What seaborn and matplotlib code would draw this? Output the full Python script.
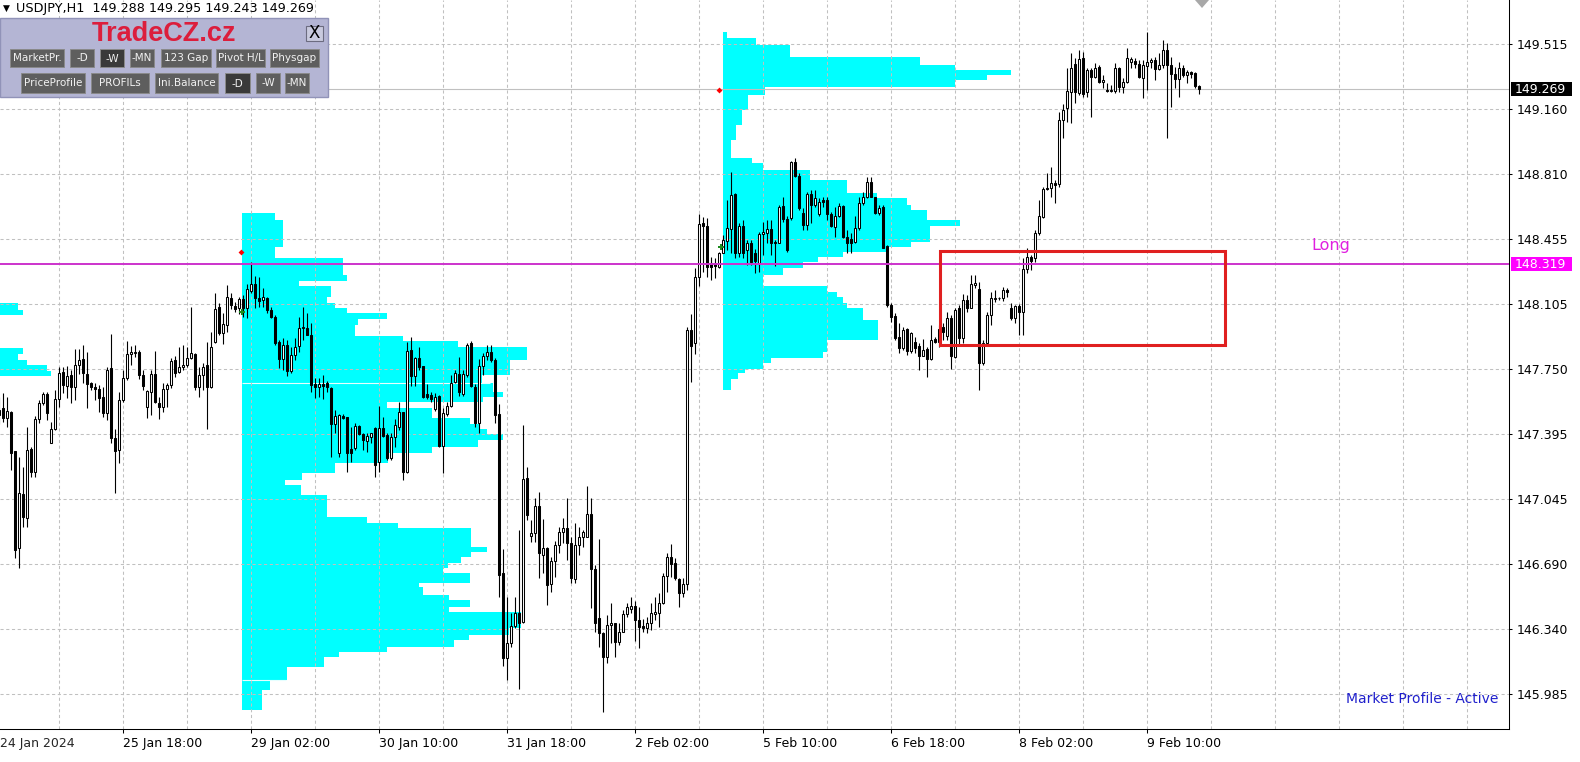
import matplotlib
matplotlib.use("Agg")
import matplotlib.pyplot as plt
from matplotlib.patches import Rectangle, Polygon
from matplotlib.transforms import IdentityTransform
import numpy as np
import seaborn as sns

# ---------------- data (USDJPY H1, bar index 0 = 24 Jan 2024 11:00) ----------------
OPEN = [
    147.500, 147.537, 147.483, 147.519, 147.305, 146.777, 147.072, 146.940, 147.316, 147.188,
    147.479, 147.564, 147.615, 147.347, 147.426, 147.586, 147.734, 147.660, 147.716, 147.651,
    147.772, 147.803, 147.723, 147.673, 147.654, 147.642, 147.600, 147.513, 147.754, 147.374,
    147.311, 147.582, 147.700, 147.830, 147.836, 147.845, 147.718, 147.542, 147.627, 147.721,
    147.564, 147.546, 147.642, 147.664, 147.799, 147.732, 147.759, 147.772, 147.808, 147.832,
    147.654, 147.716, 147.772, 147.654, 147.895, 148.085, 147.944, 147.989, 148.134, 148.094,
    148.083, 148.130, 148.083, 148.174, 148.212, 148.134, 148.125, 148.134, 148.070, 148.031,
    147.899, 147.803, 147.880, 147.741, 147.826, 147.875, 147.971, 147.971, 147.935, 147.669,
    147.654, 147.669, 147.672, 147.645, 147.451, 147.296, 147.495, 147.491, 147.314, 147.319,
    147.441, 147.397, 147.361, 147.383, 147.428, 147.247, 147.428, 147.392, 147.265, 147.379,
    147.437, 147.518, 147.193, 147.853, 147.712, 147.808, 147.766, 147.614, 147.609, 147.531,
    147.603, 147.332, 147.506, 147.549, 147.681, 147.723, 147.614, 147.718, 147.889, 147.654,
    147.455, 147.766, 147.821, 147.844, 147.799, 147.505, 146.641, 146.179, 146.261, 146.355,
    146.424, 146.378, 147.157, 146.843, 146.858, 147.006, 146.740, 146.776, 146.583, 146.709,
    146.795, 146.863, 146.885, 146.807, 146.608, 146.795, 146.840, 146.840, 146.961, 146.662,
    146.400, 146.315, 146.185, 146.360, 146.369, 146.270, 146.324, 146.420, 146.449, 146.463,
    146.387, 146.355, 146.342, 146.373, 146.420, 146.424, 146.478, 146.626, 146.731, 146.695,
    146.608, 146.532, 146.583, 147.960, 147.890, 148.250, 148.541, 148.527, 148.328, 148.328,
    148.306, 148.382, 148.447, 148.509, 148.701, 148.379, 148.527, 148.397, 148.433, 148.379,
    148.324, 148.484, 148.490, 148.509, 148.442, 148.437, 148.636, 148.563, 148.569, 148.876,
    148.799, 148.596, 148.532, 148.701, 148.641, 148.592, 148.668, 148.668, 148.592, 148.523,
    148.581, 148.636, 148.469, 148.455, 148.442, 148.514, 148.650, 148.686, 148.768, 148.683,
    148.596, 148.632, 148.418, 148.098, 148.039, 147.926, 147.863, 147.966, 147.850, 147.899,
    147.876, 147.821, 147.857, 147.803, 147.911, 147.899, 147.980, 147.930, 148.026, 147.817,
    148.080, 147.917, 148.125, 148.083, 148.206, 148.185, 147.781, 147.890, 148.043, 148.130,
    148.134, 148.134, 148.179, 148.083, 148.029, 148.092, 148.058, 148.293, 148.360, 148.351,
    148.487, 148.577, 148.735, 148.731, 148.758, 148.753, 149.102, 149.166, 149.256, 149.404,
    149.247, 149.437, 149.256, 149.374, 149.338, 149.392, 149.307, 149.265, 149.260, 149.260,
    149.386, 149.283, 149.307, 149.420, 149.423, 149.404, 149.332, 149.397, 149.415, 149.428,
    149.379, 149.401, 149.482, 149.401, 149.350, 149.325, 149.383, 149.347, 149.361, 149.356,
    149.288,
]
HIGH = [
    147.600, 147.622, 147.600, 147.520, 147.305, 147.274, 147.220, 147.437, 147.329, 147.497,
    147.582, 147.627, 147.627, 147.464, 147.636, 147.763, 147.760, 147.767, 147.745, 147.857,
    147.857, 147.879, 147.845, 147.682, 147.673, 147.664, 147.654, 147.763, 147.940, 147.423,
    147.627, 147.745, 147.904, 147.875, 147.881, 147.854, 147.745, 147.636, 147.745, 147.848,
    147.600, 147.673, 147.673, 147.808, 147.821, 147.868, 147.881, 147.872, 148.085, 147.835,
    147.763, 147.781, 147.899, 147.953, 148.165, 148.111, 148.053, 148.205, 148.165, 148.116,
    148.140, 148.150, 148.212, 148.333, 148.255, 148.252, 148.188, 148.143, 148.089, 148.043,
    147.908, 147.917, 147.908, 147.871, 147.917, 148.034, 148.089, 148.052, 147.998, 147.699,
    147.699, 147.718, 147.687, 147.654, 147.527, 147.506, 147.506, 147.491, 147.437, 147.455,
    147.446, 147.401, 147.401, 147.404, 147.437, 147.549, 147.491, 147.401, 147.401, 147.477,
    147.573, 147.518, 147.898, 147.926, 147.817, 147.871, 147.766, 147.669, 147.627, 147.618,
    147.609, 147.537, 147.573, 147.718, 147.745, 147.817, 147.745, 147.889, 147.902, 147.669,
    147.803, 147.839, 147.880, 147.880, 147.808, 147.560, 146.771, 146.514, 146.424, 146.514,
    146.876, 147.446, 147.220, 146.930, 147.048, 147.084, 146.934, 146.786, 146.731, 146.818,
    146.894, 146.940, 147.048, 146.840, 146.912, 146.894, 146.876, 147.115, 147.048, 146.686,
    146.825, 146.324, 146.414, 146.478, 146.373, 146.369, 146.442, 146.481, 146.514, 146.492,
    146.460, 146.391, 146.405, 146.478, 146.514, 146.532, 146.641, 146.749, 146.800, 146.722,
    146.614, 146.614, 147.980, 148.050, 148.300, 148.590, 148.574, 148.569, 148.361, 148.351,
    148.388, 148.478, 148.668, 148.822, 148.704, 148.542, 148.560, 148.451, 148.451, 148.400,
    148.496, 148.551, 148.560, 148.560, 148.451, 148.641, 148.686, 148.581, 148.882, 148.894,
    148.813, 148.623, 148.713, 148.722, 148.722, 148.680, 148.686, 148.686, 148.605, 148.632,
    148.650, 148.641, 148.505, 148.487, 148.581, 148.686, 148.713, 148.795, 148.795, 148.686,
    148.641, 148.641, 148.424, 148.107, 148.053, 148.002, 147.980, 147.971, 147.953, 147.926,
    147.890, 147.912, 147.872, 147.990, 147.926, 147.990, 147.998, 148.062, 148.043, 148.080,
    148.100, 148.156, 148.152, 148.260, 148.260, 148.224, 147.908, 148.061, 148.170, 148.179,
    148.143, 148.197, 148.188, 148.110, 148.097, 148.105, 148.351, 148.409, 148.369, 148.505,
    148.668, 148.740, 148.813, 148.849, 148.776, 149.147, 149.187, 149.383, 149.464, 149.437,
    149.482, 149.473, 149.383, 149.386, 149.410, 149.401, 149.347, 149.301, 149.292, 149.410,
    149.392, 149.328, 149.491, 149.446, 149.437, 149.428, 149.428, 149.582, 149.441, 149.446,
    149.464, 149.537, 149.518, 149.446, 149.392, 149.415, 149.401, 149.374, 149.368, 149.365,
    149.295,
]
LOW = [
    147.450, 147.464, 147.437, 147.202, 146.722, 146.668, 146.894, 146.894, 147.166, 147.166,
    147.455, 147.555, 147.473, 147.347, 147.419, 147.546, 147.618, 147.591, 147.564, 147.582,
    147.723, 147.673, 147.537, 147.636, 147.582, 147.519, 147.492, 147.473, 147.347, 147.079,
    147.238, 147.573, 147.691, 147.772, 147.814, 147.694, 147.636, 147.483, 147.501, 147.568,
    147.477, 147.519, 147.546, 147.645, 147.709, 147.727, 147.745, 147.763, 147.803, 147.636,
    147.597, 147.636, 147.423, 147.645, 147.893, 147.933, 147.886, 147.953, 148.074, 148.062,
    148.047, 148.030, 148.025, 148.161, 148.080, 148.089, 148.089, 148.052, 148.025, 147.880,
    147.754, 147.745, 147.712, 147.727, 147.799, 147.844, 147.908, 147.935, 147.627, 147.591,
    147.600, 147.585, 147.627, 147.274, 147.401, 147.274, 147.477, 147.193, 147.247, 147.310,
    147.392, 147.310, 147.301, 147.347, 147.166, 147.193, 147.383, 147.256, 147.256, 147.328,
    147.419, 147.147, 147.184, 147.658, 147.658, 147.745, 147.591, 147.585, 147.573, 147.524,
    147.328, 147.187, 147.495, 147.546, 147.676, 147.604, 147.604, 147.709, 147.654, 147.437,
    147.401, 147.718, 147.799, 147.790, 147.459, 146.514, 146.138, 146.062, 146.242, 146.342,
    146.011, 146.369, 146.930, 146.813, 146.813, 146.614, 146.641, 146.469, 146.541, 146.619,
    146.749, 146.804, 146.713, 146.590, 146.590, 146.740, 146.786, 146.836, 146.451, 146.324,
    146.242, 145.890, 146.152, 146.260, 146.188, 146.251, 146.324, 146.405, 146.424, 146.275,
    146.233, 146.324, 146.319, 146.333, 146.387, 146.351, 146.474, 146.541, 146.623, 146.604,
    146.460, 146.514, 146.550, 147.680, 147.832, 148.200, 148.279, 148.252, 148.234, 148.243,
    148.297, 148.379, 148.397, 148.379, 148.351, 148.361, 148.351, 148.315, 148.315, 148.270,
    148.279, 148.370, 148.433, 148.370, 148.310, 148.433, 148.551, 148.388, 148.560, 148.792,
    148.614, 148.505, 148.505, 148.542, 148.632, 148.580, 148.632, 148.560, 148.520, 148.469,
    148.578, 148.460, 148.379, 148.379, 148.433, 148.505, 148.641, 148.677, 148.683, 148.592,
    148.587, 148.406, 148.089, 148.008, 147.908, 147.836, 147.854, 147.827, 147.836, 147.836,
    147.745, 147.818, 147.709, 147.799, 147.890, 147.870, 147.908, 147.908, 147.750, 147.808,
    147.880, 147.890, 148.061, 148.080, 148.188, 147.636, 147.772, 147.880, 147.989, 148.116,
    148.125, 148.119, 148.143, 148.016, 147.998, 147.935, 147.935, 148.270, 148.288, 148.329,
    148.478, 148.572, 148.722, 148.686, 148.650, 148.740, 149.003, 149.093, 149.084, 149.193,
    149.238, 149.229, 149.229, 149.120, 149.328, 149.301, 149.274, 149.256, 149.256, 149.247,
    149.256, 149.247, 149.301, 149.383, 149.383, 149.328, 149.220, 149.265, 149.383, 149.319,
    149.374, 149.386, 149.006, 149.175, 149.274, 149.229, 149.338, 149.301, 149.328, 149.274,
    149.243,
]
CLOSE = [
    147.530, 147.483, 147.524, 147.296, 146.768, 147.075, 146.945, 147.311, 147.188, 147.479,
    147.564, 147.615, 147.510, 147.423, 147.586, 147.727, 147.664, 147.712, 147.654, 147.772,
    147.799, 147.727, 147.667, 147.654, 147.640, 147.595, 147.513, 147.745, 147.374, 147.307,
    147.582, 147.700, 147.830, 147.841, 147.845, 147.718, 147.658, 147.633, 147.721, 147.569,
    147.546, 147.642, 147.664, 147.796, 147.727, 147.759, 147.772, 147.808, 147.835, 147.654,
    147.716, 147.763, 147.651, 147.872, 148.074, 147.944, 147.995, 148.140, 148.098, 148.076,
    148.129, 148.080, 148.183, 148.212, 148.134, 148.121, 148.139, 148.070, 148.031, 147.893,
    147.803, 147.880, 147.741, 147.826, 147.871, 147.971, 147.980, 147.935, 147.663, 147.650,
    147.669, 147.658, 147.650, 147.451, 147.495, 147.499, 147.486, 147.296, 147.296, 147.441,
    147.397, 147.365, 147.386, 147.401, 147.229, 147.428, 147.388, 147.265, 147.383, 147.446,
    147.518, 147.193, 147.850, 147.712, 147.808, 147.763, 147.600, 147.600, 147.585, 147.596,
    147.332, 147.509, 147.549, 147.676, 147.730, 147.627, 147.723, 147.880, 147.658, 147.455,
    147.766, 147.821, 147.844, 147.799, 147.500, 146.632, 146.179, 146.261, 146.355, 146.424,
    146.373, 147.151, 146.957, 146.858, 147.006, 146.753, 146.776, 146.577, 146.709, 146.795,
    146.863, 146.885, 146.804, 146.614, 146.795, 146.840, 146.867, 146.961, 146.662, 146.373,
    146.315, 146.185, 146.360, 146.369, 146.270, 146.324, 146.420, 146.460, 146.463, 146.387,
    146.351, 146.342, 146.373, 146.424, 146.433, 146.478, 146.626, 146.731, 146.691, 146.614,
    146.532, 146.583, 147.960, 147.875, 148.250, 148.540, 148.527, 148.306, 148.306, 148.310,
    148.382, 148.451, 148.514, 148.695, 148.379, 148.527, 148.379, 148.433, 148.333, 148.339,
    148.484, 148.496, 148.509, 148.437, 148.433, 148.632, 148.563, 148.397, 148.876, 148.799,
    148.623, 148.532, 148.701, 148.641, 148.677, 148.659, 148.659, 148.592, 148.527, 148.581,
    148.636, 148.469, 148.437, 148.437, 148.514, 148.654, 148.686, 148.768, 148.683, 148.596,
    148.623, 148.406, 148.098, 148.035, 147.917, 147.863, 147.962, 147.850, 147.944, 147.863,
    147.821, 147.854, 147.803, 147.908, 147.899, 147.970, 147.953, 148.026, 147.822, 148.071,
    147.917, 148.125, 148.083, 148.210, 148.215, 147.781, 147.890, 148.043, 148.134, 148.134,
    148.134, 148.179, 148.170, 148.029, 148.092, 148.058, 148.293, 148.356, 148.337, 148.487,
    148.583, 148.727, 148.727, 148.758, 148.749, 149.102, 149.156, 149.260, 149.386, 149.256,
    149.432, 149.242, 149.374, 149.338, 149.383, 149.310, 149.319, 149.260, 149.265, 149.386,
    149.283, 149.307, 149.437, 149.432, 149.404, 149.338, 149.401, 149.415, 149.428, 149.379,
    149.401, 149.482, 149.401, 149.350, 149.325, 149.383, 149.347, 149.361, 149.350, 149.289,
    149.269,
]

# Weekly market profiles: row top prices and TPO lengths (in bars)
P1_START = 60.8
P1_TOP = [148.597, 148.559, 148.413, 148.353, 148.261, 148.228, 148.201, 148.141, 148.108, 148.081,
          148.054, 148.022, 147.989, 147.929, 147.902, 147.870, 147.799, 147.718, 147.674, 147.625,
          147.598, 147.571, 147.538, 147.484, 147.451, 147.424, 147.397, 147.364, 147.326, 147.294,
          147.239, 147.185, 147.147, 147.120, 147.066, 146.946, 146.914, 146.887, 146.783, 146.756,
          146.729, 146.696, 146.669, 146.642, 146.588, 146.566, 146.522, 146.495, 146.457, 146.430,
          146.343, 146.305, 146.278, 146.240, 146.213, 146.186, 146.132, 146.061, 146.007]
P1_LEN = [8.2, 10.2, 8.2, 25.2, 26.2, 14.2, 22.2, 21.2, 23.2, 26.2,
          36.2, 29.0, 28.2, 40.2, 54.0, 71.2, 67.0, 60.0, 62.7, 65.2,
          60.2, 36.2, 47.5, 57.0, 59.5, 61.2, 65.2, 59.0, 47.5, 36.5,
          23.2, 15.0, 10.6, 14.7, 21.2, 31.1, 39.0, 57.2, 61.2, 57.2,
          54.7, 51.5, 50.2, 57.0, 44.2, 45.2, 51.7, 57.0, 51.7, 69.7,
          66.7, 56.7, 53.0, 36.2, 24.1, 20.4, 11.1, 7.0, 5.0]
P1_BOTTOM = 145.898
P1_MARK = [147.676, 146.063]
P1_MARK_LEN = [62.0, 11.0]

P2_START = 180.9
P2_TOP = [149.580, 149.548, 149.510, 149.444, 149.401, 149.374, 149.347, 149.319, 149.281, 149.238,
          149.157, 149.075, 148.994, 148.896, 148.869, 148.831, 148.776, 148.706, 148.679, 148.641,
          148.614, 148.559, 148.527, 148.440, 148.413, 148.386, 148.358, 148.331, 148.298, 148.261,
          148.201, 148.168, 148.141, 148.108, 148.081, 148.016, 147.907, 147.842, 147.810, 147.783,
          147.750, 147.728, 147.696]
P2_LEN = [1.1, 8.4, 16.9, 49.4, 58.1, 72.1, 66.1, 58.1, 10.6, 6.4,
          4.9, 3.4, 2.1, 7.4, 10.1, 21.9, 31.1, 38.6, 46.1, 47.1,
          51.1, 59.4, 51.9, 47.1, 41.1, 30.1, 23.9, 20.1, 15.1, 10.1,
          26.1, 28.6, 30.1, 31.1, 35.1, 38.9, 26.1, 25.1, 12.1, 10.1,
          5.6, 3.9, 2.1]
P2_BOTTOM = 147.636

P0_START = -59.0
P0_TOP = [148.107, 148.071, 148.043, 147.862, 147.831, 147.799, 147.772, 147.741]
P0_LEN = [63.8, 64.9, 0.0, 64.9, 63.8, 65.9, 70.9, 71.9]
P0_BOTTOM = 147.712

PRICE_TICKS = [149.515, 149.160, 148.810, 148.455, 148.105, 147.750,
               147.395, 147.045, 146.690, 146.340, 145.985]
TIME_LABELS = ["25 Jan 18:00", "29 Jan 02:00", "30 Jan 10:00", "31 Jan 18:00",
               "2 Feb 02:00", "5 Feb 10:00", "6 Feb 18:00", "8 Feb 02:00", "9 Feb 10:00"]
TIME_LABEL_BARS = [31, 63, 95, 127, 159, 191, 223, 255, 287]
FIRST_LABEL = "24 Jan 2024"
GRID_BARS = list(range(15, 378, 16))

LONG_LEVEL = 148.319
LAST_PRICE = 149.269
BOX_BARS = (235.25, 306.5)
BOX_PRICES = (147.880, 148.391)
ARROW_BARS, ARROW_PRICES = [60.5, 180.1], [148.384, 149.267]
DOT_BARS, DOT_PRICES = [60.75, 180.4], [148.062, 148.411]

TITLE = "USDJPY,H1  149.288 149.295 149.243 149.269"
BUTTONS_ROW1 = [("MarketPr.", 10, 64, False), ("-D", 70, 94, False), ("-W", 100, 124, True),
                ("-MN", 130, 154, False), ("123 Gap", 161, 211, False),
                ("Pivot H/L", 216, 265, False), ("Physgap", 270, 319, False)]
BUTTONS_ROW2 = [("PriceProfile", 21, 85, False), ("PROFILs", 91, 149, False),
                ("Ini.Balance", 155, 218, False), ("-D", 225, 250, True),
                ("-W", 256, 280, False), ("-MN", 285, 309, False)]

assert len(OPEN) == len(HIGH) == len(LOW) == len(CLOSE) == 301
assert len(P1_TOP) == len(P1_LEN) and len(P2_TOP) == len(P2_LEN) and len(P0_TOP) == len(P0_LEN)

# ---------------- style ----------------
sns.set_theme(style="white", rc={"axes.edgecolor": "black", "xtick.color": "black",
                                 "ytick.color": "black", "axes.linewidth": 0.75})
plt.rcParams["font.family"] = ["DejaVu Sans"]

W, H = 1580, 762
fig = plt.figure(figsize=(W / 100, H / 100), dpi=100)
fig.patch.set_facecolor("white")
ax = fig.add_axes([0, 33 / H, 1509 / W, 729 / H])
ax.set_facecolor("white")
ax.set_xlim(0.25, 377.5)
ax.set_ylim(145.795, 149.754)

for s in ("left", "top"):
    ax.spines[s].set_visible(False)
for s in ("right", "bottom"):
    ax.spines[s].set_color("black")
    ax.spines[s].set_linewidth(0.75)

# grid
grid_kw = dict(color="#c0c0c0", lw=0.75, ls=(0, (3, 2.5)), zorder=1.5)
for p in PRICE_TICKS:
    ax.axhline(p, **grid_kw)
for b in GRID_BARS:
    ax.axvline(b, **grid_kw)

# market profiles
def draw_profile(start, tops, lens, bottom):
    tops = np.array(tops)
    bottoms = np.append(tops[1:], bottom)
    ax.barh(bottoms, lens, height=tops - bottoms, left=start, align="edge",
            color="#00ffff", linewidth=0, antialiased=False, zorder=1)

draw_profile(P0_START, P0_TOP, P0_LEN, P0_BOTTOM)
draw_profile(P1_START, P1_TOP, P1_LEN, P1_BOTTOM)
draw_profile(P2_START, P2_TOP, P2_LEN, P2_BOTTOM)
ax.hlines(P1_MARK, P1_START, P1_START + np.array(P1_MARK_LEN), color="#e6ffff", lw=0.8, zorder=1.2)

# current price line
ax.axhline(LAST_PRICE, color="#c0c0c0", lw=0.8, zorder=2.5)

# candles
o, h, l, c = map(np.array, (OPEN, HIGH, LOW, CLOSE))
idx = np.arange(len(c))
hi = np.maximum(h, np.maximum(o, c))
lo = np.minimum(l, np.minimum(o, c))
ax.vlines(idx, lo, hi, color="black", lw=0.8, zorder=3)
body_bot = np.minimum(o, c)
body_h = np.maximum(np.abs(c - o), 0.002)
colors = np.where(c > o, "white", "black")
ax.bar(idx, body_h, bottom=body_bot, width=0.68, color=colors, edgecolor="black",
       linewidth=0.75, zorder=4)

# markers
sns.scatterplot(x=ARROW_BARS, y=ARROW_PRICES, marker="D", s=9, color="#ff0000",
                linewidth=0, ax=ax, zorder=7, legend=False)
sns.scatterplot(x=DOT_BARS, y=DOT_PRICES, marker="P", s=22, color="#1c8a1c",
                linewidth=0, ax=ax, zorder=7, legend=False)

# long level
ax.axhline(LONG_LEVEL, color="#cc33cc", lw=1.4, zorder=5)
ax.text(328, LONG_LEVEL + 0.1, "Long", color="#e020e0", fontsize=11.5,
        va="center", ha="left", zorder=8)

# red box
ax.add_patch(Rectangle((BOX_BARS[0], BOX_PRICES[0]), BOX_BARS[1] - BOX_BARS[0],
                       BOX_PRICES[1] - BOX_PRICES[0], fill=False, edgecolor="#e02020",
                       lw=2.2, zorder=6))

# axes ticks
ax.yaxis.tick_right()
ax.set_yticks(PRICE_TICKS)
ax.set_yticklabels([f"{p:.3f}" for p in PRICE_TICKS])
ax.tick_params(axis="y", direction="out", length=2.5, width=0.75, pad=3.2, labelsize=9,
               right=True, left=False)
ax.set_xticks(TIME_LABEL_BARS)
ax.set_xticklabels(TIME_LABELS, ha="left")
ax.tick_params(axis="x", direction="out", length=3, width=0.75, pad=2.5, labelsize=9,
               bottom=True)
ax.annotate(FIRST_LABEL, xy=(0, 0), xycoords="axes fraction",
            xytext=(0.3, -5.5), textcoords="offset points", ha="left", va="top",
            fontsize=9, annotation_clip=False)
ax.grid(False)

# ---------------- pixel-space overlays ----------------
fig.canvas.draw()
ident = IdentityTransform()

def prect(x0, y0, x1, y1, **kw):
    fig.add_artist(Rectangle((x0, H - y1), x1 - x0, y1 - y0, transform=ident, **kw))

def ptext(x, y, s, **kw):
    fig.text(x / W, 1 - y / H, s, **kw)

def price_to_py(p):
    return H - ax.transData.transform((1, p))[1]

# right-axis price boxes
for price, fc in ((LAST_PRICE, "black"), (LONG_LEVEL, "#ff00ff")):
    py = price_to_py(price)
    prect(1511, py - 7, 1572, py + 7, facecolor=fc, edgecolor="none", zorder=5)
    ptext(1515, py, f"{price:.3f}", color="white", fontsize=9, va="center", ha="left", zorder=6)

# chart-shift marker
fig.add_artist(Polygon([(1195, H), (1209, H), (1202, H - 8)], closed=True,
                       transform=ident, facecolor="#a8a8a8", edgecolor="none", zorder=5))

# symbol title
ptext(3, 8.5, "\u25BC", fontsize=6.5, va="center", ha="left", color="black", zorder=6)
ptext(16, 8.5, TITLE, fontsize=9.2, va="center", ha="left", color="black", zorder=6)

# TradeCZ panel
prect(0, 18, 328, 97, facecolor="#b4b5d4", edgecolor="#9193b8", lw=1, zorder=4)
ptext(163.5, 34, "TradeCZ.cz", fontsize=19.5, fontweight="bold", color="#dc1e3c",
      family="Liberation Sans", ha="center", va="center", zorder=6)
prect(306, 26, 323, 41, facecolor="#c9cade", edgecolor="#6c6c80", lw=0.8, zorder=5)
ptext(314.5, 33.5, "X", fontsize=12, color="black", ha="center", va="center", zorder=6)
for row, (y0, y1) in ((BUTTONS_ROW1, (49, 67)), (BUTTONS_ROW2, (73, 93))):
    for label, x0, x1, pressed in row:
        prect(x0, y0, x1, y1, facecolor="#3a3a3a" if pressed else "#5e5e5e",
              edgecolor="#8a8a8a", lw=0.7, zorder=5)
        ptext((x0 + x1) / 2, (y0 + y1) / 2 + (1 if pressed else 0), label, fontsize=7.5,
              color="#f2f2f2", ha="center", va="center", zorder=6)

# status text
ptext(1498, 699, "Market Profile - Active", fontsize=10, color="#2020cc",
      ha="right", va="center", zorder=6)

fig.savefig("out.png", dpi=100, facecolor="white")
